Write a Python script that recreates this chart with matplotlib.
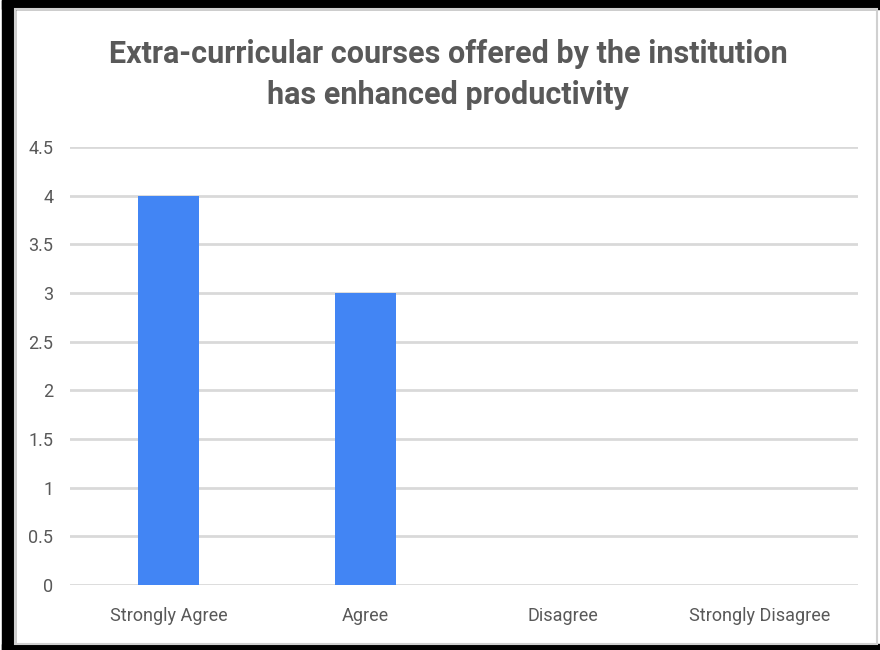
import matplotlib.pyplot as plt
from matplotlib.patches import Rectangle
import numpy as np

categories = ['Strongly Agree', 'Agree', 'Disagree', 'Strongly Disagree']
values = [4, 3, 0, 0]
yticks = [0, 0.5, 1, 1.5, 2, 2.5, 3, 3.5, 4, 4.5]
title = 'Extra-curricular courses offered by the institution\nhas enhanced productivity'

plt.rcParams['font.family'] = ['Roboto', 'DejaVu Sans']
grey = '#595959'

fig = plt.figure(figsize=(8.8, 6.5), dpi=100)
W, H = 880.0, 650.0

# black frame round the picture (left, top, bottom)
fig.patches.append(Rectangle((2/W, 0), 13/W, 1, transform=fig.transFigure, color='black', zorder=0))
fig.patches.append(Rectangle((2/W, 1 - 9/H), 1, 9/H, transform=fig.transFigure, color='black', zorder=0))
fig.patches.append(Rectangle((2/W, 0), 1, 6/H, transform=fig.transFigure, color='black', zorder=0))
# thin grey border inside
fig.patches.append(Rectangle((15/W, 6/H), 862/W, 1 - 15/H, transform=fig.transFigure,
                             fill=False, edgecolor='#d0d0d0', linewidth=1.5, zorder=1))

ax = fig.add_axes([70/W, 0.1, 788/W, 0.6738])
x = np.arange(len(categories))
ax.bar(x, values, width=0.31, color='#4285f4', zorder=3)
ax.set_xlim(-0.5, len(categories) - 0.5)
ax.set_ylim(0, 4.5)
ax.set_yticks(yticks)
ax.set_yticklabels([('%g' % v) for v in yticks])
ax.set_xticks(x)
ax.set_xticklabels(categories)
ax.yaxis.grid(True, color='#d9d9d9', linewidth=2, zorder=0)
ax.set_axisbelow(True)
for s in ax.spines.values():
    s.set_visible(False)
ax.tick_params(axis='both', length=0, labelsize=13, labelcolor=grey)
ax.tick_params(axis='y', pad=12)
ax.tick_params(axis='x', pad=16)

fig.text(0.509, 1 - 74.5/H, title, ha='center', va='center', fontsize=22,
         fontweight='bold', color=grey, linespacing=1.45)

fig.savefig('out.png', dpi=100)
